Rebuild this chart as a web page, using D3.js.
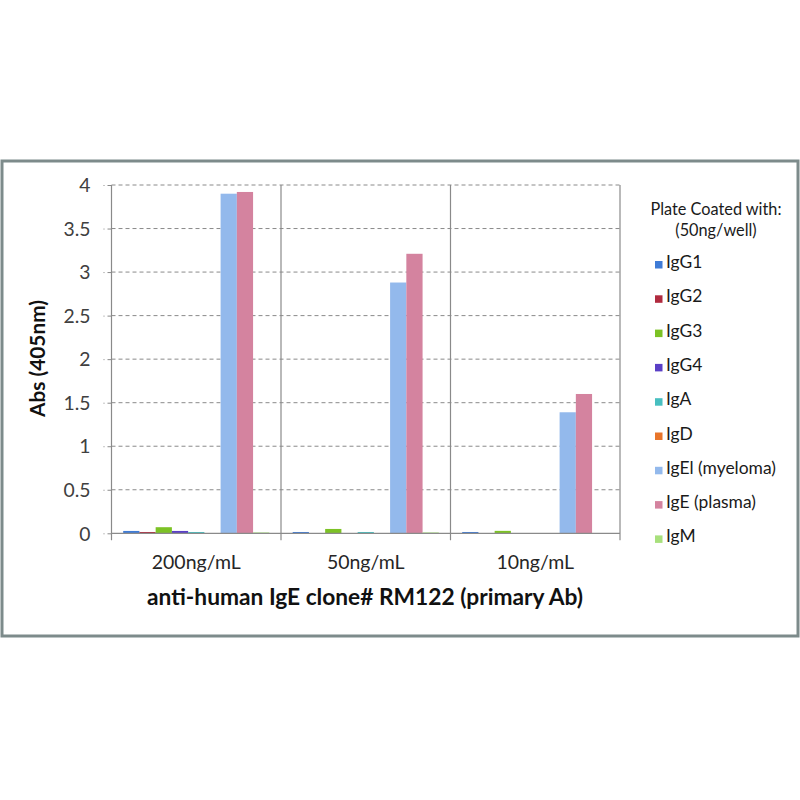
<!DOCTYPE html>
<html>
<head>
<meta charset="utf-8">
<script src="https://cdn.jsdelivr.net/npm/d3@7"></script>
<style>
  html, body { margin: 0; padding: 0; background: #fff; }
  svg { display: block; }
  text { font-family: Lato, "Open Sans", "DejaVu Sans", sans-serif; }
</style>
</head>
<body>
<svg id="chart" width="800" height="800"></svg>
<script>
// ---------------- data ----------------
const categories = ["200ng/mL", "50ng/mL", "10ng/mL"];
const seriesNames = ["IgG1", "IgG2", "IgG3", "IgG4", "IgA", "IgD", "IgEl (myeloma)", "IgE (plasma)", "IgM"];
const IgG1 = [0.027, 0.015, 0.015];
const IgG2 = [0.015, 0, 0];
const IgG3 = [0.07, 0.05, 0.028];
const IgG4 = [0.027, 0, 0];
const IgA = [0.015, 0.015, 0];
const IgD = [0, 0, 0];
const IgE_myeloma = [3.9, 2.88, 1.39];
const IgE_plasma = [3.92, 3.21, 1.60];
const IgM = [0.01, 0.01, 0];
const seriesValues = [IgG1, IgG2, IgG3, IgG4, IgA, IgD, IgE_myeloma, IgE_plasma, IgM];
const seriesColors = ["#3f7bd6", "#b02a3e", "#7cc225", "#5a3fc6", "#47bfc0", "#e8752a", "#93b9ec", "#d4839f", "#a8e07c"];
const yTickValues = [0, 0.5, 1, 1.5, 2, 2.5, 3, 3.5, 4];
const yTickLabels = ["0", "0.5", "1", "1.5", "2", "2.5", "3", "3.5", "4"];
const xTitle = "anti-human IgE clone# RM122 (primary Ab)";
const yTitle = "Abs (405nm)";
const legendTitle = ["Plate Coated with:", "(50ng/well)"];

// ---------------- layout ----------------
const svg = d3.select("#chart");
const plot = { left: 111.5, right: 620, top: 185, bottom: 533.3 };

function fit(sel, target, base) {
  sel.style("font-size", base + "px");
  const w = sel.node().getComputedTextLength();
  sel.style("font-size", (base * target / w).toFixed(2) + "px");
  return sel;
}

// frame
svg.append("rect").attr("x", 0).attr("y", 0).attr("width", 800).attr("height", 800).attr("fill", "#fff");
svg.append("rect").attr("x", 2).attr("y", 161).attr("width", 796).attr("height", 475)
  .attr("fill", "#fff").attr("stroke", "#7d8b8b").attr("stroke-width", 3);

const x0 = d3.scaleBand().domain(categories).range([plot.left, plot.right]).paddingInner(0).paddingOuter(0);
const x1 = d3.scaleBand().domain(seriesNames).range([0, x0.bandwidth()]).paddingInner(0).paddingOuter(0.72);
const y = d3.scaleLinear().domain([0, 4]).range([plot.bottom, plot.top]);

// gridlines (dashed)
svg.append("g").selectAll("line").data(yTickValues.filter(v => v > 0)).join("line")
  .attr("x1", plot.left).attr("x2", plot.right)
  .attr("y1", d => y(d)).attr("y2", d => y(d))
  .attr("stroke", "#8a8a8a").attr("stroke-width", 1).attr("stroke-dasharray", "4,3");

// y axis
const yAxis = d3.axisLeft(y).tickValues(yTickValues).tickSize(8)
  .tickFormat((d, i) => yTickLabels[i]);
const gy = svg.append("g").attr("transform", `translate(${plot.left},0)`).call(yAxis);
gy.select(".domain").remove();
gy.selectAll(".tick line").attr("stroke", "#8a8a8a").attr("stroke-dasharray", "4,3");
gy.selectAll(".tick text").attr("fill", "#404040").attr("x", -21).attr("dy", "0.35em")
  .style("font-family", "Lato, 'Open Sans', sans-serif");
{
  const t = gy.selectAll(".tick text").filter((d, i) => yTickLabels[i] === "0.5");
  t.style("font-size", "16px");
  const w = t.node().getComputedTextLength();
  const fs = (16 * 27 / w).toFixed(2);
  gy.selectAll(".tick text").style("font-size", fs + "px");
}

// bars
const groups = svg.append("g").selectAll("g").data(categories).join("g")
  .attr("transform", d => `translate(${x0(d)},0)`);
groups.selectAll("rect")
  .data((c, ci) => seriesNames.map((s, si) => ({ s, si, v: seriesValues[si][ci] })))
  .join("rect")
  .attr("x", d => x1(d.s))
  .attr("width", x1.bandwidth())
  .attr("y", d => y(d.v))
  .attr("height", d => y(0) - y(d.v))
  .attr("fill", d => seriesColors[d.si]);

// x baseline and category dividers
svg.append("line").attr("x1", plot.left).attr("x2", plot.right)
  .attr("y1", y(0)).attr("y2", y(0)).attr("stroke", "#8a8a8a").attr("stroke-width", 1.2);
const dividers = categories.map(c => x0(c)).concat([x0(categories[categories.length - 1]) + x0.bandwidth()]);
svg.append("g").selectAll("line").data(dividers).join("line")
  .attr("x1", d => d).attr("x2", d => d)
  .attr("y1", plot.top).attr("y2", plot.bottom + 7)
  .attr("stroke", "#8a8a8a").attr("stroke-width", 1.2);

// category labels
const catLabels = svg.append("g").selectAll("text").data(categories).join("text")
  .attr("x", d => x0(d) + x0.bandwidth() / 2).attr("y", 569)
  .attr("text-anchor", "middle").attr("fill", "#262626").text(d => d);
{
  const first = catLabels.filter((d, i) => i === 0);
  first.style("font-size", "16px");
  const w = first.node().getComputedTextLength();
  catLabels.style("font-size", (16 * 89 / w).toFixed(2) + "px");
}

// axis titles
fit(svg.append("text").attr("x", 365).attr("y", 605).attr("text-anchor", "middle")
  .attr("font-weight", "bold").attr("fill", "#111").text(xTitle), 436, 17);
fit(svg.append("text").attr("transform", "translate(45,358.5) rotate(-90)").attr("text-anchor", "middle")
  .attr("font-weight", "bold").attr("fill", "#111").text(yTitle), 117, 17);

// legend
fit(svg.append("text").attr("x", 716).attr("y", 215).attr("text-anchor", "middle")
  .attr("fill", "#1a1a1a").text(legendTitle[0]), 131, 14);
const lt2 = svg.append("text").attr("x", 716).attr("y", 236).attr("text-anchor", "middle")
  .attr("fill", "#1a1a1a").text(legendTitle[1]);
const leg = svg.append("g").selectAll("g").data(seriesNames).join("g")
  .attr("transform", (d, i) => `translate(655,${263 + i * 34.3})`);
leg.append("rect").attr("x", 0).attr("y", -2).attr("width", 7.5).attr("height", 7.5)
  .attr("fill", (d, i) => seriesColors[i]);
const legTexts = leg.append("text").attr("x", 11).attr("y", 5).attr("fill", "#1a1a1a").text(d => d);
{
  const t = legTexts.filter(d => d === "IgEl (myeloma)");
  t.style("font-size", "14px");
  const w = t.node().getComputedTextLength();
  const fs = (14 * 110 / w).toFixed(2);
  legTexts.style("font-size", fs + "px");
  lt2.style("font-size", svg.select("text[x='716']").style("font-size"));
}
</script>
</body>
</html>
